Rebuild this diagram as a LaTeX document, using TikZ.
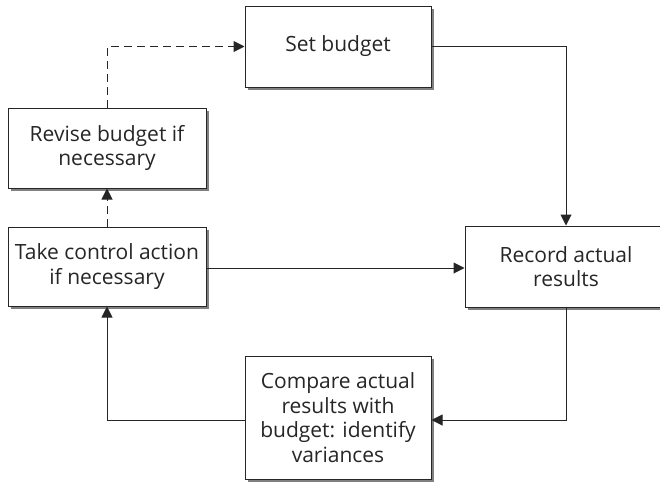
\documentclass[tikz,border=0pt]{standalone}
\usepackage{fontspec}
\setmainfont{Open Sans}
\usetikzlibrary{arrows.meta,shadows}
\begin{document}
\begin{tikzpicture}[x=1pt,y=-1pt,
  box/.style={draw=black!85,line width=1pt,fill=white,align=center,
    inner sep=2pt,font=\fontsize{21}{24.5}\selectfont,text=black!85,
    drop shadow={shadow xshift=3pt,shadow yshift=-3pt,fill=black!50,opacity=1}},
  conn/.style={draw=black!85,line width=1pt,-{Triangle[length=11pt,width=11pt]}},
  dconn/.style={conn,dash pattern=on 8pt off 5pt}]
\clip (0,0) rectangle (660,483);
\useasboundingbox (0,0) rectangle (660,483);
\node[box,minimum width=186pt,minimum height=81pt] (set) at (338,46.5) {Set budget};
\node[box,minimum width=198pt,minimum height=80pt] (rev) at (107,148) {Revise budget if\\necessary};
\node[box,minimum width=198pt,minimum height=79pt] (take) at (107,266.5) {Take control action\\if necessary};
\node[box,minimum width=202pt,minimum height=81pt] (rec) at (566,266.5) {Record actual\\results};
\node[box,minimum width=186pt,minimum height=123pt] (cmp) at (338,417.5) {Compare actual\\results with\\budget: identify\\variances};
\draw[dconn] (rev.north) |- (set.west);
\draw[dconn] (take.north) -- (rev.south);
\draw[conn] (set.east) -| (rec.north);
\draw[conn] (take.east |- 0,268) -- (rec.west |- 0,268);
\draw[conn] (rec.south) |- (cmp.east |- 0,420);
\draw[conn] (cmp.west |- 0,420) -| (take.south);
\end{tikzpicture}
\end{document}
